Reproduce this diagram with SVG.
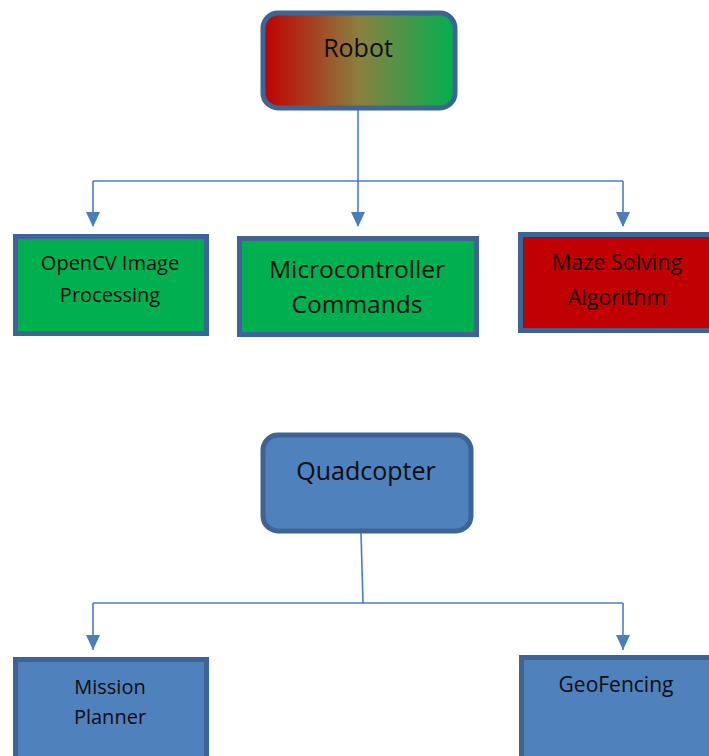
<svg xmlns="http://www.w3.org/2000/svg" width="709" height="756" viewBox="0 0 709 756">
<style>
.box{stroke:#3d6494;stroke-width:5}
.blue{fill:#4f81bd}
.green{fill:#00b050}
.red{fill:#c00000}
.conn{fill:none;stroke:#4a7ebb;stroke-width:1.6}
text{font-family:"Open Sans","Noto Sans",sans-serif;fill:#0d0d0d;text-anchor:middle}
.t20{font-size:20px}
.t21{font-size:21px}
.t25{font-size:25px}
</style>
<defs>
<linearGradient id="rg" x1="0" y1="0" x2="1" y2="0">
<stop offset="0" stop-color="#c00000"/>
<stop offset="0.5" stop-color="#8a8040"/>
<stop offset="1" stop-color="#00b050"/>
</linearGradient>
</defs>
<g id="connectors">
<path class="conn" d="M358,110 V181"/>
<path class="conn" d="M93,181 H623"/>
<path class="conn" d="M93,181 V226"/>
<path class="conn" d="M358,181 V226"/>
<path class="conn" d="M623,181 V226"/>
<path class="conn" d="M361,533 L363,603"/>
<path class="conn" d="M93,603 H623"/>
<path class="conn" d="M93,603 V650"/>
<path class="conn" d="M623,603 V650"/>
<g fill="#4a7ebb">
<path d="M86,212 L100,212 L93,227 Z"/>
<path d="M351,212 L365,212 L358,227 Z"/>
<path d="M616,212 L630,212 L623,227 Z"/>
<path d="M86,635 L100,635 L93,650 Z"/>
<path d="M616,635 L630,635 L623,650 Z"/>
</g>
</g>
<g id="robot">
<rect class="box" x="263" y="13" width="192" height="95" rx="15" fill="url(#rg)"/>
<text class="t25" x="358" y="57">Robot</text>
</g>
<g id="opencv">
<rect class="box green" x="15.5" y="236.5" width="191" height="97"/>
<text class="t20" x="110" y="270">OpenCV Image</text>
<text class="t20" x="110" y="302">Processing</text>
</g>
<g id="micro">
<rect class="box green" x="239.5" y="238.5" width="237" height="96"/>
<text x="357" y="278" style="font-size:24.5px">Microcontroller</text>
<text x="357" y="313" style="font-size:24.5px">Commands</text>
</g>
<g id="maze">
<rect class="box red" x="520.5" y="234.5" width="195" height="96"/>
<text x="617" y="270" style="fill:#1a0000;font-size:21.5px">Maze Solving</text>
<text x="617" y="305" style="fill:#1a0000;font-size:21.5px">Algorithm</text>
</g>
<g id="quadcopter">
<rect class="box blue" x="263" y="435" width="208" height="96" rx="15"/>
<text class="t25" x="366" y="480">Quadcopter</text>
</g>
<g id="mission">
<rect class="box blue" x="15.5" y="659.5" width="191" height="110"/>
<text class="t20" x="110" y="694">Mission</text>
<text class="t20" x="110" y="724">Planner</text>
</g>
<g id="geofencing">
<rect class="box blue" x="521.5" y="657.5" width="195" height="110"/>
<text class="t21" x="616" y="692">GeoFencing</text>
</g>
</svg>
